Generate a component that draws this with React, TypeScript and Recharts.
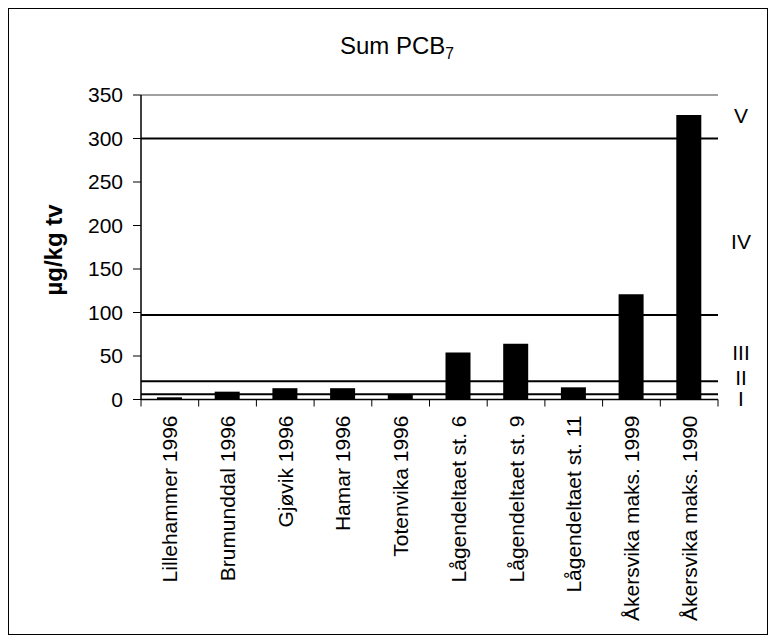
import React from "react";
import { Bar, BarChart, ReferenceLine, XAxis, YAxis } from "recharts";

const stations = [
  "Lillehammer 1996",
  "Brumunddal 1996",
  "Gjøvik 1996",
  "Hamar 1996",
  "Totenvika 1996",
  "Lågendeltaet st. 6",
  "Lågendeltaet st. 9",
  "Lågendeltaet st. 11",
  "Åkersvika maks. 1999",
  "Åkersvika maks. 1990",
];
const pcb7 = [2.5, 9, 13, 13, 6, 54, 64, 14, 121, 327];
const yTicks = [0, 50, 100, 150, 200, 250, 300, 350];
const classLimits = [6, 21, 97, 300];
const classNames = ["V", "IV", "III", "II", "I"];
const classLabelAt = [327, 182, 54, 25, 1];

const data = stations.map((name, i) => ({ name, value: pcb7[i] }));

const FONT = "Arial, 'Liberation Sans', sans-serif";
const W = 758;
const H = 625;
const margin = { top: 86, right: 49, bottom: 10, left: 62 };
const bandHalf = (W - margin.left - 70 - margin.right) / stations.length / 2;

function StationTick(props: any) {
  const { x, y, payload, index } = props;
  const half = payload?.offset || bandHalf;
  const ty = y + 16;
  return (
    <g>
      <line x1={x - half} x2={x - half} y1={y} y2={y + 7} stroke="#000" />
      {index === stations.length - 1 && (
        <line x1={x + half} x2={x + half} y1={y} y2={y + 7} stroke="#000" />
      )}
      <text
        x={x}
        y={ty}
        transform={`rotate(-90 ${x} ${ty})`}
        textAnchor="end"
        dominantBaseline="central"
        fontSize={21}
        fontFamily={FONT}
        fill="#000"
      >
        {payload.value}
      </text>
    </g>
  );
}

export default function App() {
  return (
    <div
      style={{
        position: "relative",
        width: W,
        height: H,
        border: "1px solid #000",
        fontFamily: FONT,
        background: "#fff",
      }}
    >
      <div
        style={{
          position: "absolute",
          left: 388,
          top: 25,
          transform: "translateX(-50%)",
          fontSize: 24,
          lineHeight: 1,
          whiteSpace: "nowrap",
          color: "#000",
        }}
      >
        Sum PCB
        <span style={{ fontSize: "0.65em", position: "relative", top: "0.35em" }}>7</span>
      </div>
      <BarChart width={W} height={H} data={data} margin={margin}>
        <XAxis
          dataKey="name"
          interval={0}
          height={224.5}
          tickSize={0}
          tickMargin={0}
          tickLine={false}
          axisLine={{ stroke: "#000", strokeWidth: 1.5 }}
          tick={<StationTick />}
        />
        <YAxis
          domain={[0, 350]}
          ticks={yTicks}
          width={70}
          tickSize={8}
          tickMargin={10}
          axisLine={{ stroke: "#000", strokeWidth: 1.5 }}
          tickLine={{ stroke: "#000" }}
          tick={{ fill: "#000", fontSize: 21, fontFamily: FONT }}
          label={{
            content: () => (
              <text
                x={44}
                y={241}
                transform="rotate(-90 44 241)"
                textAnchor="middle"
                dominantBaseline="central"
                fontWeight="bold"
                fontSize={24}
                fontFamily={FONT}
                fill="#000"
              >
                µg/kg tv
              </text>
            ),
          }}
        />
        <YAxis
          yAxisId="r"
          orientation="right"
          domain={[0, 350]}
          ticks={[]}
          tick={false}
          tickLine={false}
          width={0}
          axisLine={{ stroke: "#808080", strokeWidth: 1.5 }}
        />
        <ReferenceLine y={350} stroke="#808080" strokeWidth={1.5} />
        <Bar dataKey="value" fill="#000" barSize={25} isAnimationActive={false} />
        {classLimits.map((v) => (
          <ReferenceLine key={`l${v}`} y={v} stroke="#000" strokeWidth={2} />
        ))}
        {classNames.map((name, i) => (
          <ReferenceLine
            key={name}
            y={classLabelAt[i]}
            stroke="none"
            label={{
              content: (p: any) => {
                const vb = p.viewBox || {};
                return (
                  <text
                    x={(vb.x ?? 0) + (vb.width ?? 0) + 23}
                    y={vb.y ?? 0}
                    textAnchor="middle"
                    dominantBaseline="central"
                    fontSize={21}
                    fontFamily={FONT}
                    fill="#000"
                  >
                    {name}
                  </text>
                );
              },
            }}
          />
        ))}
      </BarChart>
    </div>
  );
}
